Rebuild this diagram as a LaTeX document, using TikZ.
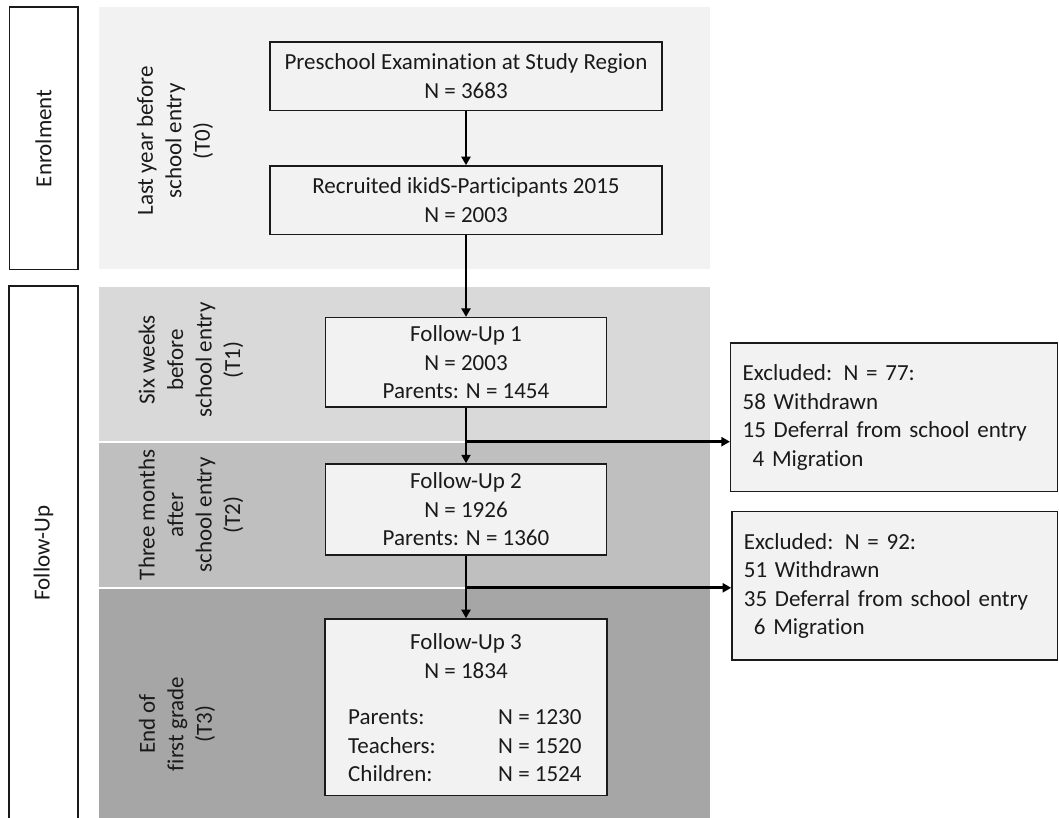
\documentclass[tikz,border=0pt]{standalone}
\usepackage{fontspec}
\setmainfont{Carlito}[Ligatures=NoCommon]
\usetikzlibrary{arrows.meta}

\definecolor{phaseT0}{HTML}{F2F2F2}
\definecolor{phaseT1}{HTML}{D9D9D9}
\definecolor{phaseT2}{HTML}{BFBFBF}
\definecolor{phaseT3}{HTML}{A6A6A6}
\definecolor{boxfill}{HTML}{F2F2F2}
\definecolor{inkcol}{HTML}{1A1A1A}

\newcommand\flowfont{\fontsize{23}{28.5}\selectfont}

\tikzset{
  phasebox/.style={draw=inkcol, line width=1.6pt, fill=white, inner sep=0pt,
    font=\flowfont, text=inkcol},
  flowbox/.style={draw=inkcol, line width=1.5pt, fill=boxfill, inner sep=0pt,
    align=center, font=\flowfont, text=inkcol},
  exclbox/.style={draw=inkcol, line width=1.5pt, fill=boxfill, inner xsep=12pt,
    inner ysep=0pt, align=left, font=\flowfont, text=inkcol},
  bandlabel/.style={rotate=90, align=center, inner sep=0pt, font=\flowfont,
    text=inkcol},
  txt/.style={inner sep=0pt, font=\flowfont, text=inkcol},
  flow/.style={draw=black, line width=2.8pt,
    -{Triangle[length=8.5pt,width=9pt]}}
}

\begin{document}
\begin{tikzpicture}[x=1pt, y=-1pt]
  \useasboundingbox (0,0) rectangle (1059,818);
  \clip (0,0) rectangle (1059,818);

  % time bands
  \fill[phaseT0] (99,7.3)   rectangle (710,268.5);
  \fill[phaseT1] (99,287.3) rectangle (710,440.7);
  \fill[phaseT2] (99,442.7) rectangle (710,587);
  \fill[phaseT3] (99,589)   rectangle (710,818);

  % study phases
  \node[phasebox, rotate=90, minimum width=262, minimum height=68.4]
    (enrol) at (43.5,138.3) {Enrolment};
  \node[phasebox, rotate=90, minimum width=534, minimum height=68.7]
    (follow) at (43.6,553) {Follow-Up};

  % band labels
  \node[bandlabel] (lblT0) at (175,141) {Last year before\\school entry\\(T0)};
  \node[bandlabel] (lblT1) at (191,360) {Six weeks\\before\\school entry\\(T1)};
  \node[bandlabel] (lblT2) at (191,515) {Three months\\after\\school entry\\(T2)};
  \node[bandlabel] (lblT3) at (177,724) {End of\\first grade\\(T3)};

  % flow boxes
  \node[flowbox, minimum width=392, minimum height=68.7] (exam) at (466,76.3)
    {Preschool Examination at Study Region\\N = 3683};
  \node[flowbox, minimum width=392, minimum height=68.7] (recr) at (466,200.3)
    {Recruited ikidS-Participants 2015\\N = 2003};
  \node[flowbox, minimum width=281, minimum height=89.3] (fu1) at (466,362.3)
    {Follow-Up 1\\N = 2003\\Parents: N = 1454};
  \node[flowbox, minimum width=281, minimum height=91] (fu2) at (466,509.5)
    {Follow-Up 2\\N = 1926\\Parents: N = 1360};
  \node[flowbox, minimum width=281.7, minimum height=176.7] (fu3) at (466,707.3) {};
  \node[txt, align=center] (fu3head) at (466,656) {Follow-Up 3\\N = 1834};
  \node[txt, align=left, anchor=west] (fu3who) at (348,746)
    {Parents:\\Teachers:\\Children:};
  \node[txt, align=left, anchor=west] (fu3n) at (498,746)
    {N = 1230\\N = 1520\\N = 1524};

  % exclusion boxes
  \node[exclbox, text width=302.6, minimum height=148.7] (ex1) at (894,417.3)
    {Excluded: N = 77:\\58 Withdrawn\\15 Deferral from school entry\\\hspace*{10pt}4 Migration};
  \node[exclbox, text width=301.3, minimum height=148.3] (ex2) at (894.6,585.8)
    {Excluded: N = 92:\\51 Withdrawn\\35 Deferral from school entry\\\hspace*{10pt}6 Migration};

  % connectors
  \draw[flow] (exam) -- (recr);
  \draw[flow] (recr) -- (fu1);
  \draw[flow] (fu1) -- (fu2);
  \draw[flow] (fu2) -- (fu3);
  \coordinate (split1) at (466,441.7);
  \coordinate (split2) at (466,587.8);
  \draw[flow] (split1) -- (split1 -| ex1.west);
  \draw[flow] (split2) -- (split2 -| ex2.west);
\end{tikzpicture}
\end{document}
